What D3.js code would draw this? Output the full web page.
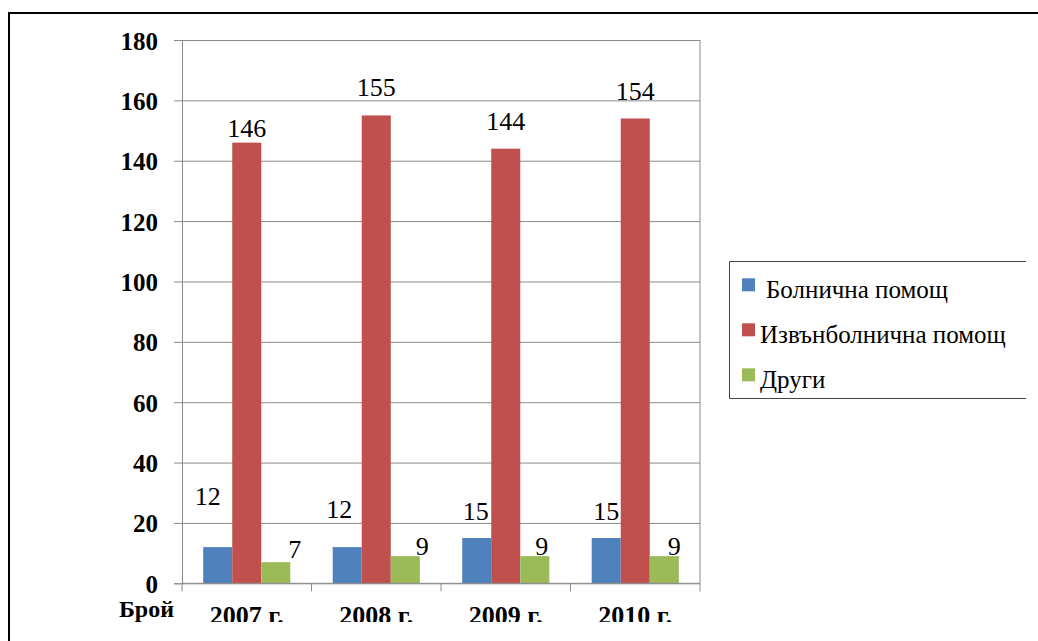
<!DOCTYPE html>
<html>
<head>
    <meta charset="UTF-8">
    <script src="https://d3js.org/d3.v7.min.js"></script>
    <style>
        body { margin: 0; background: #fff; }
        svg { display: block; }
    </style>
</head>
<body>
    <div id="app"></div>
    <script>
        // data
        const years = ['2007 г.', '2008 г.', '2009 г.', '2010 г.'];
        const seriesNames = ['Болнична помощ', 'Извънболнична помощ', 'Други'];
        const hospital = [12, 12, 15, 15];
        const outpatient = [146, 155, 144, 154];
        const other = [7, 9, 9, 9];
        const yTicks = [0, 20, 40, 60, 80, 100, 120, 140, 160, 180];

        const series = [hospital, outpatient, other];
        const colors = ['#4F81BD', '#C0504D', '#9BBB59'];

        // hand-placed label nudges (as in the original chart), [dx, dy] per point
        const labelNudge = [
            [[-10, -23], [-8, -10], [-1, 1], [0, 1]],
            [[0, 13], [0, 0], [0, 0], [0, 1]],
            [[19, 15], [17, 18], [7, 18], [10, 18]]
        ];

        const fontFam = "'Liberation Serif'";
        const width = 1038, height = 641;
        const plot = { left: 182, right: 700, top: 40, bottom: 583.3 };

        const svg = d3.select('#app').append('svg')
            .attr('width', width)
            .attr('height', height);

        // outer frame
        svg.append('path')
            .attr('d', 'M9,641 V13 H1038')
            .attr('fill', 'none')
            .attr('stroke', '#000')
            .attr('stroke-width', 2);

        const x = d3.scaleBand().domain(years).range([plot.left, plot.right]);
        const y = d3.scaleLinear().domain([0, 180]).range([plot.bottom, plot.top]);
        const groupPad = 21.2;
        const x1 = d3.scaleBand().domain(d3.range(series.length))
            .range([groupPad, x.bandwidth() - groupPad]);

        // gridlines
        svg.append('g')
            .attr('transform', 'translate(' + plot.left + ',0)')
            .call(d3.axisLeft(y).tickValues(yTicks).tickSize(-(plot.right - plot.left)).tickFormat(''))
            .call(g => g.select('.domain').remove())
            .call(g => g.selectAll('line').attr('stroke', '#8a8a8a'));

        // right border of plot
        svg.append('line')
            .attr('x1', plot.right).attr('x2', plot.right)
            .attr('y1', plot.top).attr('y2', plot.bottom)
            .attr('stroke', '#8a8a8a');

        // y axis
        const yAxis = svg.append('g')
            .attr('transform', 'translate(' + plot.left + ',0)')
            .call(d3.axisLeft(y).tickValues(yTicks).tickSize(8).tickPadding(16));
        yAxis.attr('font-family', null).attr('font-size', null);
        yAxis.select('.domain').attr('stroke', '#8a8a8a');
        yAxis.selectAll('line').attr('stroke', '#8a8a8a');
        yAxis.selectAll('text')
            .style('font-family', fontFam)
            .attr('font-size', 25)
            .attr('font-weight', 'bold')
            .attr('fill', '#000')
            .attr('dy', '0.36em');

        // bars
        const groups = svg.append('g').selectAll('g')
            .data(series)
            .enter()
            .append('g')
            .attr('fill', function (d, i) { return colors[i]; });

        groups.selectAll('rect')
            .data(function (d, i) { return d.map(function (v, j) { return { s: i, j: j, v: v }; }); })
            .enter()
            .append('rect')
            .attr('x', function (d) { return x(years[d.j]) + x1(d.s); })
            .attr('y', function (d) { return y(d.v); })
            .attr('width', x1.bandwidth())
            .attr('height', function (d) { return y(0) - y(d.v); });

        // x axis
        const xAxis = svg.append('g')
            .attr('transform', 'translate(0,' + plot.bottom + ')');
        xAxis.append('line')
            .attr('x1', plot.left).attr('x2', plot.right)
            .attr('stroke', '#8a8a8a');
        xAxis.selectAll('.tk')
            .data(years.concat(['end']))
            .enter()
            .append('line')
            .attr('x1', function (d) { return d === 'end' ? plot.right : x(d); })
            .attr('x2', function (d) { return d === 'end' ? plot.right : x(d); })
            .attr('y1', 0).attr('y2', 8)
            .attr('stroke', '#8a8a8a');

        svg.append('clipPath').attr('id', 'clip-x')
            .append('rect').attr('x', 0).attr('y', 0).attr('width', width).attr('height', 622);

        svg.append('g')
            .attr('clip-path', 'url(#clip-x)')
            .selectAll('text')
            .data(years)
            .enter()
            .append('text')
            .attr('x', function (d) { return x(d) + x.bandwidth() / 2; })
            .attr('y', 624)
            .attr('text-anchor', 'middle')
            .style('font-family', fontFam)
            .attr('font-size', 26)
            .attr('font-weight', 'bold')
            .text(function (d) { return d; });

        svg.append('text')
            .attr('x', 174)
            .attr('y', 617)
            .attr('text-anchor', 'end')
            .style('font-family', fontFam)
            .attr('font-size', 24)
            .attr('font-weight', 'bold')
            .text('Брой');

        // value labels
        const labels = svg.append('g');
        series.forEach(function (vals, s) {
            labels.selectAll('.lbl' + s)
                .data(vals)
                .enter()
                .append('text')
                .attr('x', function (v, j) {
                    return x(years[j]) + x1(s) + x1.bandwidth() / 2 + labelNudge[s][j][0];
                })
                .attr('y', function (v, j) { return y(v) - 19 + labelNudge[s][j][1]; })
                .attr('text-anchor', 'middle')
                .style('font-family', fontFam)
                .attr('font-size', 26)
                .attr('fill', '#000')
                .text(function (v) { return v; });
        });

        // legend
        svg.append('path')
            .attr('d', 'M1026,261.5 H729.5 V398.5 H1026')
            .attr('fill', 'none')
            .attr('stroke', '#444')
            .attr('stroke-width', 1);

        svg.selectAll('.key')
            .data(seriesNames)
            .enter()
            .append('rect')
            .attr('x', 742)
            .attr('y', function (d, i) { return 278.3 + i * 45; })
            .attr('width', 13).attr('height', 13)
            .attr('fill', function (d, i) { return colors[i]; });

        svg.selectAll('.keytext')
            .data(seriesNames)
            .enter()
            .append('text')
            .attr('x', function (d, i) { return i === 0 ? 766 : 760; })
            .attr('y', function (d, i) { return 298.3 + i * 45; })
            .style('font-family', fontFam)
            .attr('font-size', 25)
            .attr('fill', '#000')
            .text(function (d) { return d; });
    </script>
</body>
</html>
